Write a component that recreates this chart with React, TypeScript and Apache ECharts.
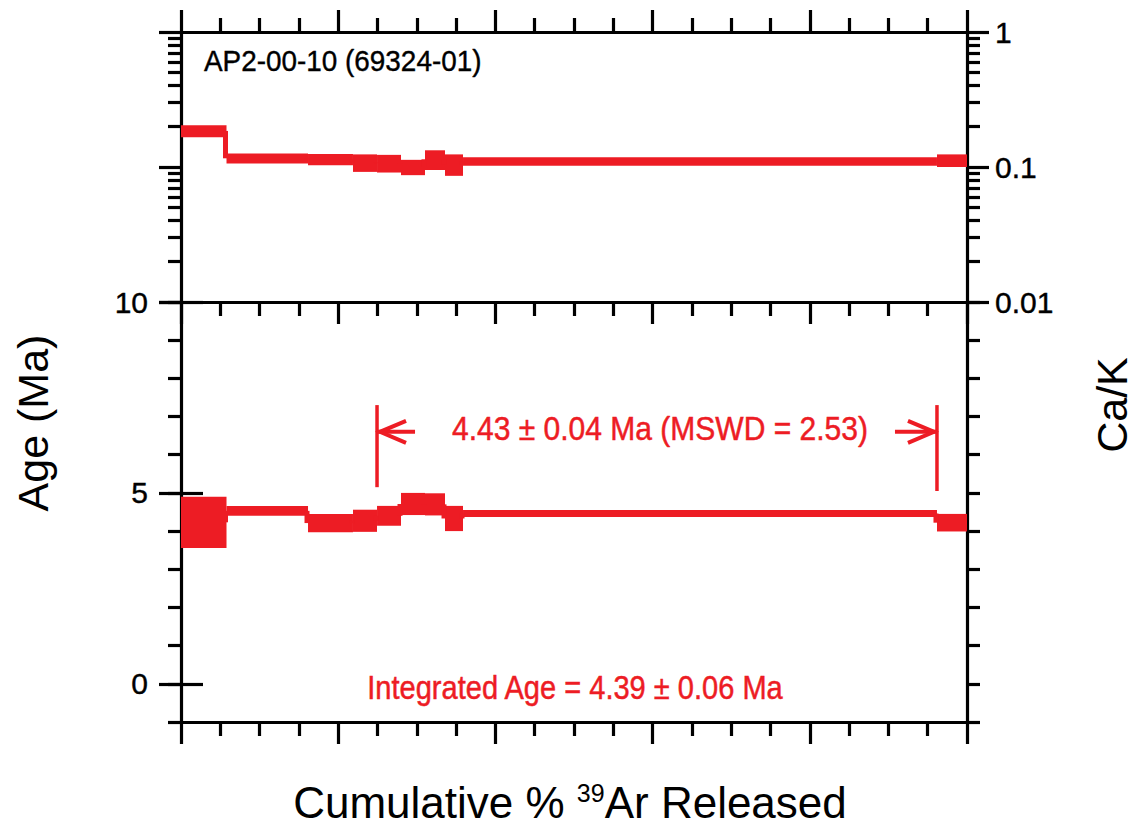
import React, { useEffect, useRef } from 'react';
import * as echarts from 'echarts';

// ---------- data ----------
const sampleLabel = 'AP2-00-10 (69324-01)';
// cumulative % 39Ar at step boundaries
const stepEdges = [0, 5.79, 16.16, 21.88, 24.94, 27.99, 31.04, 33.59, 35.88, 96.18, 100];
const ageValues = [4.23, 4.53, 4.21, 4.27, 4.4, 4.71, 4.7, 4.33, 4.46, 4.22];
const ageErrors = [0.67, 0.13, 0.24, 0.29, 0.26, 0.29, 0.29, 0.33, 0.09, 0.23];
const caKValues = [0.185, 0.116, 0.114, 0.108, 0.107, 0.1, 0.114, 0.105, 0.11, 0.112];
const caKErrors = [0.019, 0.01, 0.011, 0.016, 0.016, 0.013, 0.019, 0.019, 0.008, 0.012];
const plateauRange = [24.94, 96.18];
const plateauLabel = '4.43 ± 0.04 Ma (MSWD = 2.53)';
const integratedLabel = 'Integrated Age = 4.39 ± 0.06 Ma';
const ageMajorTicks = [0, 5, 10];
const caKMinorTicks = [0.02, 0.03, 0.04, 0.05, 0.06, 0.07, 0.08, 0.09, 0.2, 0.3, 0.4, 0.5, 0.6, 0.7, 0.8, 0.9];

const RED = '#ED1C24';
const AX = '#000';
const LW = 3.2;
const FONT = '"Liberation Sans", Arial, Helvetica, sans-serif';

function xAx(grid: number, position: string, inside: boolean) {
  return {
    type: 'value', gridIndex: grid, position, min: 0, max: 100, interval: 20,
    axisLine: { show: true, onZero: false, lineStyle: { color: AX, width: LW } },
    axisTick: { show: true, inside, length: 22, lineStyle: { color: AX, width: LW } },
    minorTick: { show: true, splitNumber: 4, length: 14, lineStyle: { color: AX, width: LW } },
    axisLabel: { show: false }, splitLine: { show: false }, minorSplitLine: { show: false },
  };
}

function logAx(position: string, opts: any) {
  return {
    type: 'log', logBase: 10, gridIndex: 0, position, min: 0.01, max: 1,
    axisLine: { show: true, onZero: false, lineStyle: { color: AX, width: LW } },
    axisTick: { show: true, inside: false, length: 22, lineStyle: { color: AX, width: LW } },
    axisLabel: { show: false }, splitLine: { show: false }, minorTick: { show: false },
    ...opts,
  };
}

function ageAx(position: string, opts: any) {
  return {
    type: 'value', gridIndex: 1, position, min: -1, max: 10, interval: 1,
    axisLine: { show: true, onZero: false, lineStyle: { color: AX, width: LW } },
    axisTick: { show: true, inside: false, length: 13, lineStyle: { color: AX, width: LW } },
    axisLabel: { show: false }, splitLine: { show: false },
    ...opts,
  };
}

// [start %, end %, value, error, previous step value]
const stepData = (vals: number[], errs: number[]) =>
  vals.map((v, i) => [stepEdges[i], stepEdges[i + 1], v, errs[i], i > 0 ? vals[i - 1] : v]);

const stepRender = (params: any, api: any) => {
  const x0 = api.value(0), x1 = api.value(1), v = api.value(2), e = api.value(3), pv = api.value(4);
  const p0 = api.coord([x0, v + e]);
  const p1 = api.coord([x1, v - e]);
  const c0 = api.coord([x0, pv]);
  const c1 = api.coord([x0, v]);
  return {
    type: 'group',
    children: [
      {
        type: 'rect',
        shape: { x: p0[0], y: p0[1], width: p1[0] - p0[0], height: p1[1] - p0[1] },
        style: { fill: RED },
      },
      {
        type: 'line',
        shape: { x1: c0[0] - 1, y1: c0[1], x2: c1[0] - 1, y2: c1[1] },
        style: { stroke: RED, lineWidth: 5 },
      },
    ],
  };
};

const plateauRender = (params: any, api: any) => {
  const s = api.value(0), e = api.value(1);
  const topA = 7.3, botA = 5.15, botB = 5.05, arrowA = 6.6;
  const sTop = api.coord([s, topA]), sBot = api.coord([s, botA]);
  const eTop = api.coord([e, topA]), eBot = api.coord([e, botB]);
  const ya = api.coord([s, arrowA])[1];
  const xs = sTop[0], xe = eTop[0];
  const mid = api.coord([(s + e) / 2, arrowA]);
  const ls = { stroke: RED, lineWidth: 3.5, fill: 'none' };
  const hs = { stroke: RED, lineWidth: 4, fill: 'none', lineJoin: 'miter' };
  return {
    type: 'group',
    children: [
      { type: 'line', shape: { x1: xs, y1: sTop[1], x2: xs, y2: sBot[1] }, style: ls },
      { type: 'line', shape: { x1: xe, y1: eTop[1], x2: xe, y2: eBot[1] }, style: ls },
      { type: 'line', shape: { x1: xs, y1: ya, x2: xs + 38, y2: ya }, style: hs },
      { type: 'polyline', shape: { points: [[xs + 29, ya - 11], [xs + 3, ya], [xs + 29, ya + 11]] }, style: hs },
      { type: 'line', shape: { x1: xe - 42, y1: ya, x2: xe, y2: ya }, style: hs },
      { type: 'polyline', shape: { points: [[xe - 29, ya - 11], [xe - 3, ya], [xe - 29, ya + 11]] }, style: hs },
      {
        type: 'text', x: mid[0] + 3, y: ya - 3, scaleX: 0.91,
        style: {
          text: plateauLabel, fill: RED, fontSize: 33, fontFamily: FONT,
          stroke: RED, lineWidth: 0.5,
          align: 'center', verticalAlign: 'middle', textAlign: 'center', textVerticalAlign: 'middle',
        },
      },
    ],
  };
};

const labelStyle = { color: AX, fontSize: 30, fontFamily: FONT, textBorderColor: AX, textBorderWidth: 0.4 };

const option: any = {
  animation: false,
  backgroundColor: '#fff',
  grid: [
    { left: 181, right: 174, top: 32, height: 270, containLabel: false, outerBoundsMode: 'none' },
    { left: 181, right: 174, top: 302, height: 420, containLabel: false, outerBoundsMode: 'none' },
  ],
  xAxis: [xAx(0, 'top', false), xAx(1, 'bottom', false), xAx(1, 'top', true)],
  yAxis: [
    logAx('left', {}),
    logAx('right', {
      axisLabel: {
        show: true, margin: 28, ...labelStyle,
        formatter: (v: number) => String(Number(v.toPrecision(2))),
      },
    }),
    logAx('left', {
      axisLine: { show: false },
      axisTick: { show: true, inside: false, length: 13, customValues: caKMinorTicks, lineStyle: { color: AX, width: LW } },
    }),
    logAx('right', {
      axisLine: { show: false },
      axisTick: { show: true, inside: false, length: 13, customValues: caKMinorTicks, lineStyle: { color: AX, width: LW } },
    }),
    ageAx('left', {}),
    ageAx('left', {
      axisLine: { show: false },
      axisTick: { show: true, inside: false, length: 22, customValues: ageMajorTicks, lineStyle: { color: AX, width: LW } },
      axisLabel: { show: true, margin: 33, customValues: ageMajorTicks, ...labelStyle },
    }),
    ageAx('right', {}),
    ageAx('right', {
      axisLine: { show: false },
      axisTick: { show: true, inside: false, length: 22, customValues: ageMajorTicks, lineStyle: { color: AX, width: LW } },
    }),
  ],
  series: [
    {
      type: 'custom', name: 'Ca/K', xAxisIndex: 0, yAxisIndex: 0,
      data: stepData(caKValues, caKErrors), renderItem: stepRender,
      encode: { x: [0, 1], y: 2 }, clip: false,
    },
    {
      type: 'custom', name: 'Age', xAxisIndex: 1, yAxisIndex: 4,
      data: stepData(ageValues, ageErrors), renderItem: stepRender,
      encode: { x: [0, 1], y: 2 }, clip: false,
    },
    {
      type: 'custom', name: 'Plateau', xAxisIndex: 1, yAxisIndex: 4,
      data: [plateauRange], renderItem: plateauRender,
      encode: { x: [0, 1] }, clip: false,
    },
  ],
  graphic: [
    {
      type: 'text', x: 204, y: 61, scaleX: 0.93,
      style: {
        text: sampleLabel, fill: '#000', fontSize: 30, fontFamily: FONT,
        stroke: '#000', lineWidth: 0.4,
        align: 'left', verticalAlign: 'middle', textAlign: 'left', textVerticalAlign: 'middle',
      },
    },
    {
      type: 'text', x: 575, y: 688, scaleX: 0.88,
      style: {
        text: integratedLabel, fill: RED, fontSize: 33, fontFamily: FONT,
        stroke: RED, lineWidth: 0.5,
        align: 'center', verticalAlign: 'middle', textAlign: 'center', textVerticalAlign: 'middle',
      },
    },
    {
      type: 'text', x: 33, y: 423, rotation: Math.PI / 2,
      style: {
        text: 'Age (Ma)', fill: '#000', fontSize: 43, fontFamily: FONT,
        align: 'center', verticalAlign: 'middle', textAlign: 'center', textVerticalAlign: 'middle',
      },
    },
    {
      type: 'text', x: 1112, y: 405, rotation: Math.PI / 2,
      style: {
        text: 'Ca/K', fill: '#000', fontSize: 43, fontFamily: FONT,
        align: 'center', verticalAlign: 'middle', textAlign: 'center', textVerticalAlign: 'middle',
      },
    },
    {
      type: 'text', x: 570, y: 802,
      style: {
        text: '{a|Cumulative % }{s|39}{a|Ar Released}',
        fill: '#000', fontFamily: FONT,
        align: 'center', verticalAlign: 'middle', textAlign: 'center', textVerticalAlign: 'middle',
        rich: {
          a: { fontSize: 44, fontFamily: FONT, fill: '#000' },
          s: { fontSize: 25, fontFamily: FONT, fill: '#000', verticalAlign: 'top' },
        },
      },
    },
  ],
};

export default function App() {
  const ref = useRef<HTMLDivElement>(null);
  useEffect(() => {
    const chart = echarts.init(ref.current!, null, { renderer: 'svg' });
    chart.setOption(option);
    return () => chart.dispose();
  }, []);
  return (
    <div
      ref={ref}
      style={{ position: 'fixed', left: 0, top: 0, width: 1141, height: 828, background: '#fff' }}
    />
  );
}
